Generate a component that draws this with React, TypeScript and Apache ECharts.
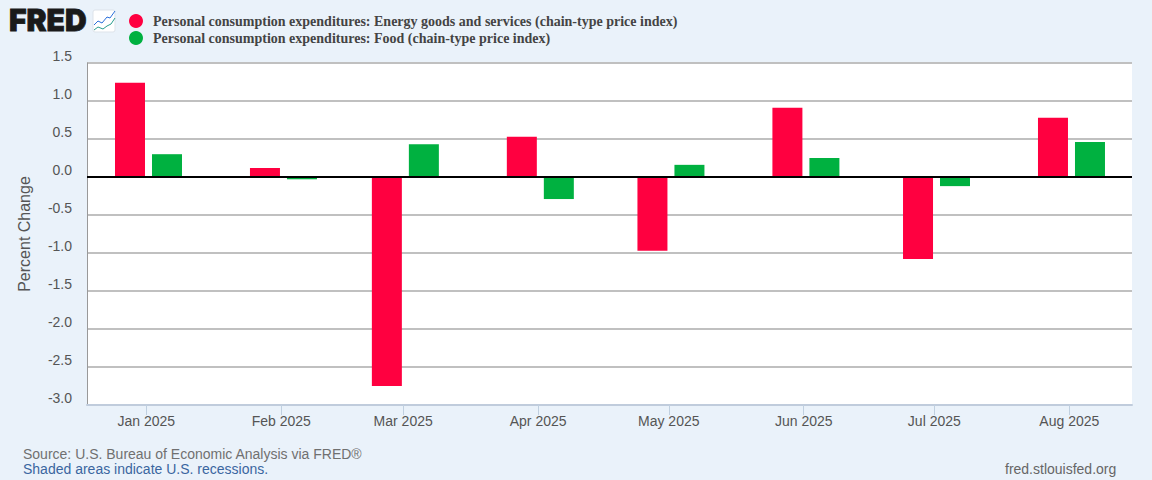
import React, { useEffect, useRef } from "react";
import * as echarts from "echarts";

const dates = ["2025-01-01", "2025-02-01", "2025-03-01", "2025-04-01", "2025-05-01", "2025-06-01", "2025-07-01", "2025-08-01"];
const energy = [1.24, 0.12, -2.75, 0.53, -0.97, 0.91, -1.08, 0.78];
const food = [0.3, -0.03, 0.43, -0.29, 0.16, 0.25, -0.12, 0.46];
const energyName = "Personal consumption expenditures: Energy goods and services (chain-type price index)";
const foodName = "Personal consumption expenditures: Food (chain-type price index)";
const monthNames = ["Jan", "Feb", "Mar", "Apr", "May", "Jun", "Jul", "Aug", "Sep", "Oct", "Nov", "Dec"];

const DAY = 86400000;
const SANS = '"Liberation Sans", Arial, sans-serif';
const SERIF = '"Liberation Serif", "Times New Roman", serif';
const t = (d: string) => Date.parse(d + "T00:00:00Z");
// Bars sit half a day after the tick, as in the reference's grouped columns.
const pairs = (vals: number[]) => vals.map((v, i) => [t(dates[i]) + DAY / 2, v]);
const ticks = dates.map(t);

const iconBlue = [[94, 25], [98, 21], [102, 23], [107, 17], [110, 18], [115, 11]];
const iconGreen = [[94, 30], [98, 27], [103, 29], [107, 26], [111, 24], [115, 18]];

export default function App() {
  const ref = useRef<HTMLDivElement>(null);
  useEffect(() => {
    document.body.style.margin = "0";
    const chart = echarts.init(ref.current!, null, { renderer: "svg" });
    chart.setOption({
      animation: false,
      backgroundColor: "#eaf2fa",
      grid: { left: 87, right: 20, top: 63, bottom: 75, show: true, backgroundColor: "#ffffff", borderWidth: 0 },
      legend: {
        show: true,
        orient: "vertical",
        left: 124,
        top: 9,
        itemWidth: 14,
        itemHeight: 14,
        itemGap: 3,
        icon: "circle",
        selectedMode: false,
        textStyle: { fontFamily: SERIF, fontWeight: "bold", fontSize: 14, color: "#444444", padding: [0, 0, 0, 5] },
      },
      xAxis: {
        type: "value",
        min: t("2025-01-01") - 14.125 * DAY + DAY / 2,
        max: t("2025-08-01") + 13.9 * DAY + DAY / 2,
        axisLine: { show: true, onZero: false, lineStyle: { color: "#c0ccdc", width: 2 } },
        axisTick: { show: true, customValues: ticks, length: 10, lineStyle: { color: "#c0d0e0", width: 1 } },
        axisLabel: {
          customValues: ticks,
          margin: 9,
          fontFamily: SANS,
          fontSize: 14,
          color: "#555555",
          hideOverlap: false,
          formatter: (v: number) => {
            const d = new Date(v);
            return monthNames[d.getUTCMonth()] + " " + d.getUTCFullYear();
          },
        },
        splitLine: { show: false },
      },
      yAxis: {
        type: "value",
        min: -3,
        max: 1.5,
        interval: 0.5,
        name: "Percent Change",
        nameLocation: "middle",
        nameGap: 55,
        nameTextStyle: { fontFamily: SANS, fontSize: 16, color: "#555555" },
        axisLine: { show: true, onZero: false, lineStyle: { color: "#999999", width: 1 } },
        axisTick: { show: false },
        axisLabel: {
          margin: 15,
          fontFamily: SANS,
          fontSize: 14,
          color: "#555555",
          verticalAlign: "bottom",
          formatter: (v: number) => v.toFixed(1),
        },
        splitLine: { show: true, lineStyle: { color: "#c0c0c0", width: 2 } },
      },
      series: [
        {
          name: energyName,
          type: "bar",
          data: pairs(energy),
          barWidth: 30,
          barGap: "23.33%",
          itemStyle: { color: "#ff0040" },
          markLine: {
            silent: true,
            symbol: "none",
            label: { show: false },
            lineStyle: { color: "#000000", width: 2, type: "solid" },
            data: [{ yAxis: 0 }],
          },
        },
        {
          name: foodName,
          type: "bar",
          data: pairs(food),
          barWidth: 30,
          barGap: "23.33%",
          itemStyle: { color: "#00b140" },
        },
      ],
      graphic: [
        { type: "text", x: 9, y: 5, style: { text: "FRED", fontFamily: '"Inter", "Roboto", sans-serif', fontWeight: 900, fontSize: 30, fill: "#1a1a1a", stroke: "#1a1a1a", lineWidth: 0.8 } },
        { type: "rect", shape: { x: 93, y: 10, width: 22, height: 22, r: 2 }, style: { fill: "#ffffff", stroke: "#dde3ea", lineWidth: 1 } },
        { type: "polyline", shape: { points: iconBlue }, style: { fill: "none", stroke: "#2a6fdb", lineWidth: 1 } },
        { type: "polyline", shape: { points: iconGreen }, style: { fill: "none", stroke: "#2a9d8f", lineWidth: 1 } },
        { type: "text", x: 23, y: 447, style: { text: "Source: U.S. Bureau of Economic Analysis via FRED®", fontFamily: SANS, fontSize: 14, fill: "#707070" } },
        { type: "text", x: 23, y: 462, style: { text: "Shaded areas indicate U.S. recessions.", fontFamily: SANS, fontSize: 14, fill: "#3a66a0" } },
        { type: "text", x: 1005, y: 462, style: { text: "fred.stlouisfed.org", fontFamily: SANS, fontSize: 14, fill: "#666666" } },
      ],
    });
    return () => chart.dispose();
  }, []);
  return <div ref={ref} style={{ width: 1152, height: 480 }} />;
}
